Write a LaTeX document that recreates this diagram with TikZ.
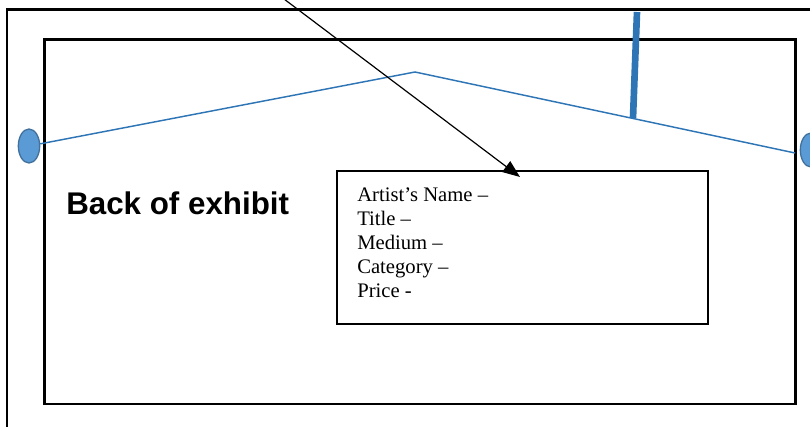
\documentclass[tikz,border=0pt]{standalone}
\usepackage{fontspec}
\setmainfont{Liberation Serif}
\setsansfont{Liberation Sans}
\usetikzlibrary{arrows.meta,shapes.geometric}
\definecolor{wireblue}{HTML}{2E75B6}
\definecolor{hookfill}{HTML}{5B9BD5}
\definecolor{hookedge}{HTML}{41719C}
\begin{document}
\begin{tikzpicture}[x=0.75pt,y=-0.75pt,
  frame/.style={draw=black,line width=2pt},
  board/.style={draw=black,line width=2.1pt},
  hook/.style={ellipse,draw=hookedge,fill=hookfill,line width=1pt,minimum width=16pt,minimum height=25.5pt,inner sep=0pt},
  wire/.style={draw=wireblue,line width=1.1pt},
  hanger/.style={draw=wireblue,line width=5pt},
  labelbox/.style={draw=black,line width=1.4pt,minimum width=278.25pt,minimum height=114.75pt,inner sep=0pt,anchor=north west},
  labelline/.style={anchor=base west,inner sep=0pt,font=\fontsize{15.5}{18}\selectfont},
  title/.style={anchor=base west,inner sep=0pt,font=\sffamily\bfseries\fontsize{23.5}{28}\selectfont},
  pointer/.style={draw=black,line width=0.9pt,-{Triangle[length=13pt,width=10pt]}}
]
\useasboundingbox (0,0) rectangle (810,427);
\clip (0,0) rectangle (810,427);
% frames
\draw[frame] (7,9.3) rectangle (840,460);
\draw[board] (44.7,39.5) rectangle (795.5,404);
% hooks and wire
\node[hook] (lh) at (29,146) {};
\node[hook] (rh) at (811,150) {};
\coordinate (peak) at (415,72);
\coordinate (wr) at (795,153);
\draw[wire] (lh) -- (peak) -- (wr);
% hanger bar
\coordinate (bt) at (637,12);
\coordinate (bb) at (633,118);
\draw[hanger] (bt) -- (bb);
% title
\node[title] (ttl) at (66,215) {Back of exhibit};
% label box
\node[labelbox] (box) at (336,170) {};
\node[labelline] (l1) at (357,202) {Artist’s Name –};
\node[labelline] (l2) at (357,226) {Title –};
\node[labelline] (l3) at (357,250) {Medium –};
\node[labelline] (l4) at (357,274) {Category –};
\node[labelline] (l5) at (357,298) {Price -};
% pointer
\coordinate (src) at (284,-1);
\coordinate (tip) at (520,177);
\draw[pointer] (src) -- (tip);
\end{tikzpicture}
\end{document}
